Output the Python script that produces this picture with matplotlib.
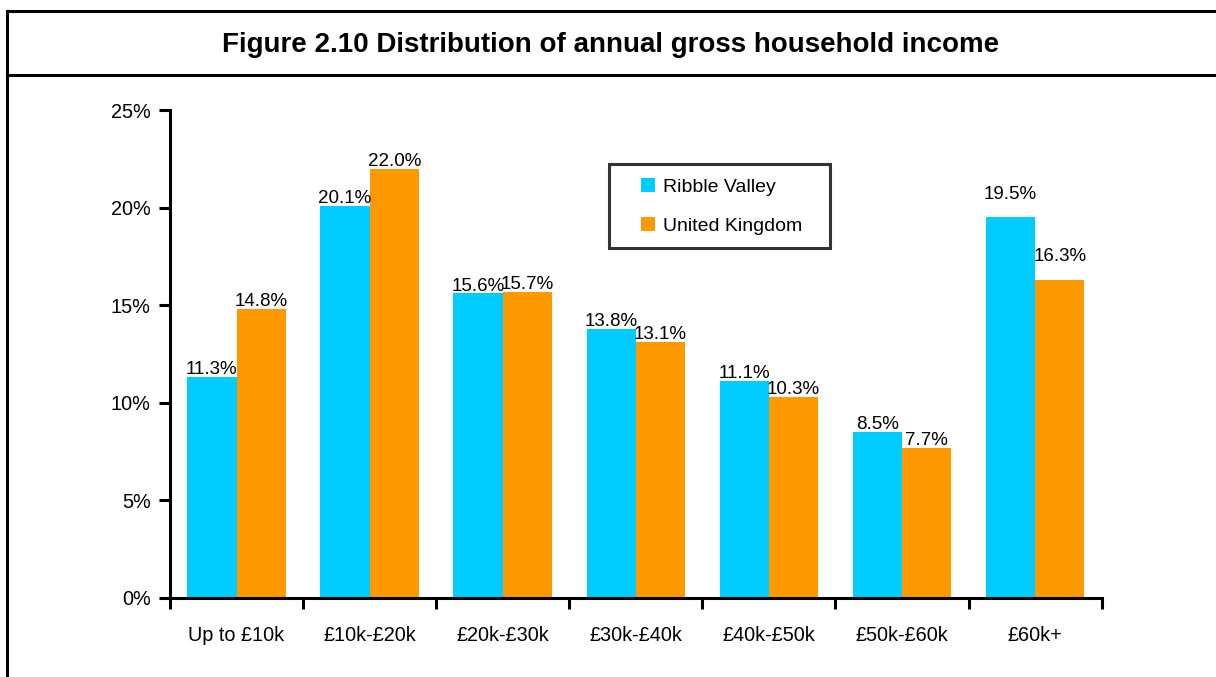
import numpy as np
import matplotlib
matplotlib.use("Agg")
from matplotlib import pyplot as plt
from matplotlib.lines import Line2D
from matplotlib.path import Path
from matplotlib.ticker import PercentFormatter

# data
categories = ["Up to £10k", "£10k-£20k", "£20k-£30k", "£30k-£40k", "£40k-£50k", "£50k-£60k", "£60k+"]
ribble_valley = [11.3, 20.1, 15.6, 13.8, 11.1, 8.5, 19.5]
united_kingdom = [14.8, 22.0, 15.7, 13.1, 10.3, 7.7, 16.3]
series_names = ["Ribble Valley", "United Kingdom"]

plt.rcParams["font.family"] = ["Liberation Sans", "DejaVu Sans"]

fig = plt.figure(figsize=(12.16, 6.77), dpi=100)
ax = fig.add_axes([0.1398, 0.1167, 0.906 - 0.1398, 0.8375 - 0.1167])

x = np.arange(len(categories))
w = 0.37
b1 = ax.bar(x - w / 2, ribble_valley, w, color="#00CCFF", label=series_names[0])
b2 = ax.bar(x + w / 2, united_kingdom, w, color="#FF9900", label=series_names[1])

# value labels sit on the bars, except the last group which floats a bit higher
for bars, vals in ((b1, ribble_valley), (b2, united_kingdom)):
    for i, (r, v) in enumerate(zip(bars, vals)):
        lift = 0.95 if i == len(categories) - 1 else 0.15
        ax.text(r.get_x() + r.get_width() / 2, v + lift, f"{v:.1f}%",
                ha="center", va="baseline", fontsize=13.5)

ax.set_xlim(-0.5, len(categories) - 0.5)
ax.set_ylim(0, 25)
ax.set_yticks([0, 5, 10, 15, 20, 25])
ax.yaxis.set_major_formatter(PercentFormatter(decimals=0))
ax.set_xticks(x)
ax.set_xticklabels(categories)
ax.set_xticks(np.arange(len(categories) + 1) - 0.5, minor=True)
ax.tick_params(axis="x", which="major", length=0, pad=20, labelsize=14.3)
ax.tick_params(axis="x", which="minor", length=8, width=2.2, direction="out")
ax.tick_params(axis="y", length=8, width=2.2, direction="out", labelsize=14.3, pad=6)

for s in ("top", "right"):
    ax.spines[s].set_visible(False)
for s in ("left", "bottom"):
    ax.spines[s].set_linewidth(2.2)


# legend frame with wider padding left/right than top/bottom
def legend_box(x0, y0, width, height, mutation_size):
    left = x0 - 0.95 * mutation_size
    right = x0 + width + 0.75 * mutation_size
    top = y0 + height
    return Path([(left, y0), (right, y0), (right, top), (left, top), (left, y0)], closed=True)


leg = ax.legend(loc="upper left", bbox_to_anchor=(0.4908, 0.889), fontsize=14,
                frameon=True, fancybox=False, edgecolor="black",
                handlelength=0.72, handleheight=0.72, labelspacing=1.1,
                borderpad=0.7, handletextpad=0.4, borderaxespad=0)
leg.get_frame().set_boxstyle(legend_box)
leg.get_frame().set_linewidth(2.2)

# frame around figure and title box
lw = 2.2
fig.add_artist(Line2D([7 / 1216, 1], [1 - 11 / 677, 1 - 11 / 677], color="black", lw=lw))
fig.add_artist(Line2D([7 / 1216, 1], [1 - 75 / 677, 1 - 75 / 677], color="black", lw=lw))
fig.add_artist(Line2D([7 / 1216, 7 / 1216], [0, 1 - 11 / 677], color="black", lw=lw))
fig.text(611 / 1216, 1 - 45 / 677, "Figure 2.10 Distribution of annual gross household income",
         ha="center", va="center", fontsize=20, fontweight="bold")

fig.savefig("out.png", dpi=100)
